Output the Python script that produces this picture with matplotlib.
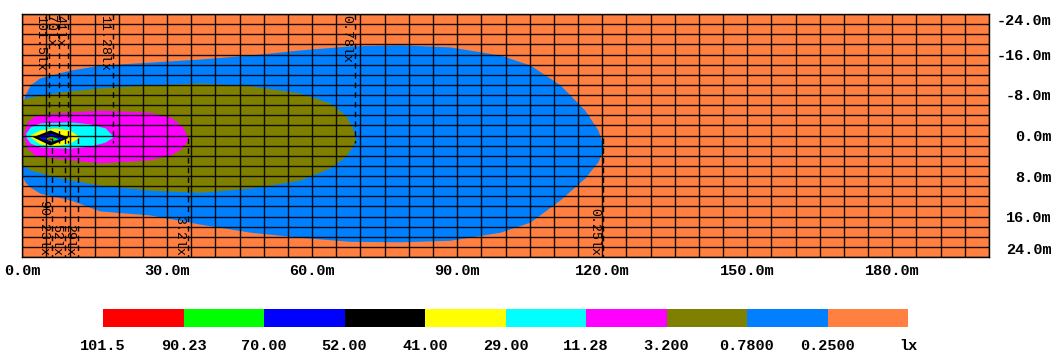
import numpy as np
import matplotlib
matplotlib.use("Agg")
import matplotlib.pyplot as plt
from matplotlib.ticker import MultipleLocator

# isolux levels (lx), colours of each band, and forward reach of each level (m)
levels = [101.5, 90.23, 70.0, 52.0, 41.0, 29.0, 11.28, 3.2, 0.78, 0.25]
band_colors = ['#ff0000', '#00ff00', '#0000ff', '#000000', '#ffff00',
               '#00ffff', '#ff00ff', '#808000', '#0080ff', '#ff8040']
reach = [5.6, 6.2, 7.7, 8.9, 9.5, 11.6, 18.8, 34.3, 68.9, 120.2]
reach_side = ['top', 'bottom', 'top', 'bottom', 'top', 'bottom', 'top', 'bottom', 'top', 'bottom']

# contour outlines: x (m), upper edge y (m), lower edge y (m)
c025_x = [0, 0.6, 1.7, 3.7, 9.9, 16.1, 26.5, 36.8, 47.2, 57.5, 67.8, 78.2, 88.5, 98.9, 105.1, 111.3, 116.4, 119.1, 120.2]
c025_top = [-6.0, -8.0, -10.0, -11.4, -12.9, -13.9, -14.5, -15.1, -15.9, -16.9, -17.7, -17.9, -17.5, -15.9, -13.9, -10.0, -5.0, -1.1, 1.9]
c025_bot = [7.8, 9.2, 10.2, 11.4, 12.7, 14.9, 15.7, 17.5, 19.1, 20.1, 20.9, 21.0, 20.7, 19.1, 17.1, 12.7, 8.4, 5.2, 2.9]

c078_x = [0, 1.7, 7.9, 16.1, 26.5, 36.8, 47.2, 57.5, 63.7, 66.8, 68.3, 68.9]
c078_top = [-7.0, -7.6, -8.6, -9.4, -10.0, -10.4, -9.8, -8.4, -6.4, -4.1, -1.7, 0.5]
c078_bot = [5.8, 6.8, 8.4, 9.8, 10.8, 11.2, 10.4, 8.8, 6.4, 4.2, 2.3, 0.9]

c32_x = [0.4, 1.0, 2.7, 5.8, 16.1, 26.5, 30.6, 33.1, 34.3]
c32_top = [-0.5, -2.7, -3.9, -4.4, -5.0, -4.6, -3.7, -1.9, 0.3]
c32_bot = [0.3, 2.5, 3.9, 4.4, 5.4, 4.8, 3.9, 2.5, 0.7]

c1128_x = [0.8, 1.7, 3.7, 9.9, 14.1, 17.2, 18.8]
c1128_top = [-0.5, -1.7, -2.5, -2.7, -2.3, -1.5, 0.1]
c1128_bot = [0.3, 1.5, 2.3, 2.5, 2.1, 1.3, 0.3]

c29_x = [1.7, 3.7, 6.8, 9.9, 11.6]
c29_top = [-0.1, -1.1, -1.5, -1.1, 0.1]
c29_bot = [0.3, 1.7, 2.1, 1.5, 0.5]

c41_x = [2.3, 5.8, 9.5]
c41_top = [0.2, -1.1, 0.3]
c41_bot = [0.3, 1.9, 0.4]

c52_x = [3.3, 5.8, 8.5]
c52_top = [0.3, -0.5, 0.4]
c52_bot = [0.4, 1.3, 0.5]

c70_x = [4.8, 6.0, 7.4]
c70_top = [0.5, 0.1, 0.6]
c70_bot = [0.6, 1.1, 0.7]

c90_x = [5.2, 5.8, 6.4]
c90_top = [0.6, 0.4, 0.7]
c90_bot = [0.7, 0.9, 0.75]

x_ticks = [0, 30, 60, 90, 120, 150, 180]
y_ticks = [-24, -16, -8, 0, 8, 16, 24]
cbar_labels = ['%#.4g' % v for v in levels] + ['lx']

mono = 'Liberation Mono'

fig = plt.figure(figsize=(10.59, 3.54), dpi=100)
ax = fig.add_axes([22/1059, 1-257/354, 967/1059, 243/354])
ax.set_facecolor(band_colors[9])

# outer -> inner
outlines = [(c025_x, c025_top, c025_bot, band_colors[8]),
            (c078_x, c078_top, c078_bot, band_colors[7]),
            (c32_x, c32_top, c32_bot, band_colors[6]),
            (c1128_x, c1128_top, c1128_bot, band_colors[5]),
            (c29_x, c29_top, c29_bot, band_colors[4]),
            (c41_x, c41_top, c41_bot, band_colors[3]),
            (c52_x, c52_top, c52_bot, band_colors[2]),
            (c70_x, c70_top, c70_bot, band_colors[1]),
            (c90_x, c90_top, c90_bot, band_colors[0])]
for cx, ct, cb, col in outlines:
    ax.fill_between(cx, ct, cb, color=col, lw=0, zorder=1)

ax.set_xlim(0, 200)
ax.set_ylim(24, -24)

ax.xaxis.set_minor_locator(MultipleLocator(5))
ax.yaxis.set_minor_locator(MultipleLocator(2))
ax.set_xticks(x_ticks)
ax.set_yticks(y_ticks)
ax.grid(which='both', color='black', lw=1.0, alpha=0.9, zorder=2)
ax.set_axisbelow(False)
ax.tick_params(which='both', length=0)
ax.set_xticklabels(['%.1fm' % v for v in x_ticks], fontfamily=mono, fontweight='bold', fontsize=11)
ax.tick_params(axis='x', pad=5)
ax.yaxis.tick_right()
ax.set_yticklabels(['%.1fm' % v for v in y_ticks], fontfamily=mono, fontweight='bold', fontsize=11)
ax.tick_params(axis='y', pad=45)
for i, lab in enumerate(ax.get_yticklabels()):
    lab.set_horizontalalignment('right')
    if i == 0:
        lab.set_verticalalignment('top')
    elif i == len(y_ticks) - 1:
        lab.set_verticalalignment('bottom')
for s in ax.spines.values():
    s.set_color('black')
    s.set_linewidth(1)

# reach markers
for lv, rx, side in zip(levels, reach, reach_side):
    if side == 'top':
        ax.plot([rx, rx], [-24, 1.5], color='black', lw=1, ls=(0, (4, 3)), zorder=3)
        ax.annotate('%glx' % lv, xy=(rx, -24), xytext=(-2, -1), textcoords='offset points',
                    rotation=-90, ha='right', va='top', fontfamily=mono, fontsize=9.5, zorder=4)
    else:
        ax.plot([rx, rx], [0.5, 24], color='black', lw=1, ls=(0, (4, 3)), zorder=3)
        ax.annotate('%glx' % lv, xy=(rx, 24), xytext=(-2, 1), textcoords='offset points',
                    rotation=-90, ha='right', va='bottom', fontfamily=mono, fontsize=9.5, zorder=4)

# legend bar
cax = fig.add_axes([103/1059, 1-327/354, 805/1059, 18/354])
cax.bar(np.arange(len(band_colors)), np.ones(len(band_colors)), width=1.0, align='edge',
        color=band_colors, lw=0)
cax.set_xlim(0, len(band_colors))
cax.set_ylim(0, 1)
cax.set_yticks([])
cax.set_xticks(np.arange(len(cbar_labels)))
cax.set_xticklabels(cbar_labels, fontfamily=mono, fontweight='bold', fontsize=11)
cax.tick_params(axis='x', length=0, pad=9)
for s in cax.spines.values():
    s.set_visible(False)

fig.savefig('out.png', dpi=100)
